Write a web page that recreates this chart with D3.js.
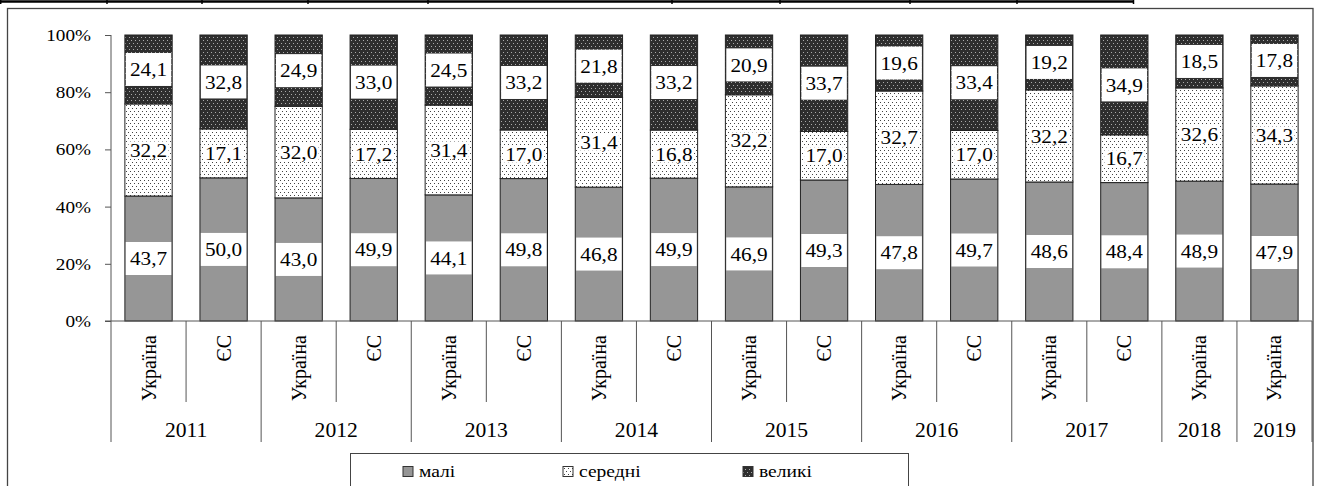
<!DOCTYPE html>
<html>
<head>
<meta charset="utf-8">
<script src="https://cdn.jsdelivr.net/npm/d3@7"></script>
<style>
  html, body { margin: 0; padding: 0; background: #fff; }
  svg { display: block; }
</style>
</head>
<body>
<svg id="chart" width="1317" height="486"></svg>
<script>
// Share of enterprises by size group (%), Ukraine vs EU
const years     = ["2011","2011","2012","2012","2013","2013","2014","2014","2015","2015","2016","2016","2017","2017","2018","2019"];
const countries = ["Україна","ЄС","Україна","ЄС","Україна","ЄС","Україна","ЄС","Україна","ЄС","Україна","ЄС","Україна","ЄС","Україна","Україна"];
const small     = [43.7, 50.0, 43.0, 49.9, 44.1, 49.8, 46.8, 49.9, 46.9, 49.3, 47.8, 49.7, 48.6, 48.4, 48.9, 47.9];
const medium    = [32.2, 17.1, 32.0, 17.2, 31.4, 17.0, 31.4, 16.8, 32.2, 17.0, 32.7, 17.0, 32.2, 16.7, 32.6, 34.3];
const large     = [24.1, 32.8, 24.9, 33.0, 24.5, 33.2, 21.8, 33.2, 20.9, 33.7, 19.6, 33.4, 19.2, 34.9, 18.5, 17.8];
const seriesNames = ["малі", "середні", "великі"];
const yTicks    = [0, 0.2, 0.4, 0.6, 0.8, 1.0];

const SERIF = "'Liberation Serif', 'Times New Roman', 'DejaVu Serif', serif";

const rows = years.map((y, i) => ({ i, year: y, country: countries[i], s: small[i], m: medium[i], l: large[i] }));
const keys = ["s", "m", "l"];

const svg = d3.select("#chart");
const defs = svg.append("defs");

// Fill patterns: solid grey, light dotted, dark dotted
const pMed = defs.append("pattern").attr("id", "pat-med").attr("patternUnits", "userSpaceOnUse")
  .attr("width", 4).attr("height", 6);
pMed.append("rect").attr("width", 4).attr("height", 6).attr("fill", "#fff");
pMed.append("rect").attr("x", 0).attr("y", 0).attr("width", 1).attr("height", 1).attr("fill", "#444");
pMed.append("rect").attr("x", 2).attr("y", 3).attr("width", 1).attr("height", 1).attr("fill", "#444");

const pBig = defs.append("pattern").attr("id", "pat-big").attr("patternUnits", "userSpaceOnUse")
  .attr("width", 4).attr("height", 6);
pBig.append("rect").attr("width", 4).attr("height", 6).attr("fill", "#2e2e2e");
pBig.append("rect").attr("x", 1).attr("y", 1).attr("width", 1).attr("height", 1).attr("fill", "#aaa");
pBig.append("rect").attr("x", 3).attr("y", 4).attr("width", 1).attr("height", 1).attr("fill", "#aaa");

const fills = { s: "#969696", m: "url(#pat-med)", l: "url(#pat-big)" };

// Outer frame and the table rule above it
svg.append("rect").attr("x", 7.5).attr("y", 8.5).attr("width", 1305.5).attr("height", 500)
  .attr("fill", "none").attr("stroke", "#444").attr("stroke-width", 1.3);
svg.append("line").attr("x1", 0).attr("x2", 1134).attr("y1", 1.5).attr("y2", 1.5)
  .attr("stroke", "#000").attr("stroke-width", 2.5);
[0.7, 107, 202, 308, 428, 672, 780, 910, 1017, 1133.5].forEach(x => {
  svg.append("line").attr("x1", x).attr("x2", x).attr("y1", 0).attr("y2", 4)
    .attr("stroke", "#000").attr("stroke-width", 1.5);
});

// Scales
const x = d3.scaleBand().domain(rows.map(d => d.i)).range([111, 1312])
  .paddingInner(0.37).paddingOuter(0.185);
const y = d3.scaleLinear().domain([0, 1]).range([321, 35]);

const stack = d3.stack().keys(keys).offset(d3.stackOffsetExpand);
const layers = stack(rows);

// Bars
const g = svg.append("g");
layers.forEach(layer => {
  g.selectAll(null).data(layer).enter().append("rect")
    .attr("x", d => x(d.data.i))
    .attr("width", x.bandwidth())
    .attr("y", d => y(d[1]))
    .attr("height", d => y(d[0]) - y(d[1]))
    .attr("fill", fills[layer.key])
    .attr("stroke", "#222").attr("stroke-width", 1);
});

// Y axis
const yAxis = d3.axisLeft(y).tickValues(yTicks).tickFormat(d3.format(".0%")).tickSize(6).tickSizeOuter(0);
const ya = svg.append("g").attr("transform", "translate(111,0)").call(yAxis);
ya.attr("font-family", null).attr("font-size", null);
ya.select(".domain").remove();
ya.selectAll(".tick line").attr("stroke", "#555");
ya.selectAll(".tick text")
  .style("font-family", SERIF).style("font-size", "16px").attr("fill", "#000")
  .attr("x", -20 / 1.2).attr("dy", "0.34em")
  .attr("transform", "scale(1.2,1)");
svg.append("line").attr("x1", 111).attr("x2", 111).attr("y1", 35).attr("y2", 442)
  .attr("stroke", "#555").attr("stroke-width", 1);
svg.append("line").attr("x1", 105).attr("x2", 1312).attr("y1", 321).attr("y2", 321)
  .attr("stroke", "#555").attr("stroke-width", 1);

// Category separators: short ones between countries, long ones between years
const step = x.step();
const x0 = 111;
d3.range(1, rows.length + 1).forEach(k => {
  const bx = x0 + k * step;
  const yearBoundary = k === rows.length || rows[k].year !== rows[k - 1].year;
  svg.append("line").attr("x1", bx).attr("x2", bx).attr("y1", 321).attr("y2", yearBoundary ? 442 : 402)
    .attr("stroke", "#555").attr("stroke-width", 1);
});

// Country labels, rotated
svg.selectAll(null).data(rows).enter().append("text")
  .attr("transform", d => `translate(${x(d.i) + x.bandwidth() / 2},335) rotate(-90)`)
  .attr("text-anchor", "end").attr("dominant-baseline", "central")
  .style("font-family", SERIF).style("font-size", "20px")
  .text(d => d.country);

// Year labels centred under each group
const groups = d3.groups(rows, d => d.year);
groups.forEach(([yr, items]) => {
  const first = items[0].i, last = items[items.length - 1].i;
  const cx = x0 + (first + last + 1) / 2 * step;
  svg.append("text").attr("transform", `translate(${cx},437) scale(1.08,1)`)
    .attr("text-anchor", "middle")
    .style("font-family", SERIF).style("font-size", "20px").text(yr);
});

// Value labels
const fmt = v => v.toFixed(1).replace(".", ",");
layers.forEach(layer => {
  const key = layer.key;
  layer.forEach(d => {
    const cx = x(d.data.i) + x.bandwidth() / 2;
    const cy = (y(d[0]) + y(d[1])) / 2;
    const lg = svg.append("g").attr("transform", `translate(${cx},${cy})`);
    const bw = key === "m" ? 40 : 45.5;
    const bh = key === "m" ? 17 : 33;
    lg.append("rect").attr("x", -bw / 2).attr("y", -bh / 2).attr("width", bw).attr("height", bh)
      .attr("fill", "#fff");
    lg.append("text").attr("transform", "scale(1.12,1)")
      .attr("text-anchor", "middle").attr("dy", "0.35em")
      .style("font-family", SERIF).style("font-size", "19px").text(fmt(d.data[key]));
  });
});

// Legend
svg.append("rect").attr("x", 350.5).attr("y", 453.5).attr("width", 558).attr("height", 40)
  .attr("fill", "#fff").attr("stroke", "#444").attr("stroke-width", 1);
const legendX = [403, 563, 743];
keys.forEach((k, i) => {
  svg.append("rect").attr("x", legendX[i]).attr("y", 466.5).attr("width", 10).attr("height", 10)
    .attr("fill", fills[k]).attr("stroke", "#333").attr("stroke-width", 1);
  svg.append("text").attr("transform", `translate(${legendX[i] + 16},477) scale(1.15,1)`)
    .style("font-family", SERIF).style("font-size", "17px").text(seriesNames[i]);
});
</script>
</body>
</html>
